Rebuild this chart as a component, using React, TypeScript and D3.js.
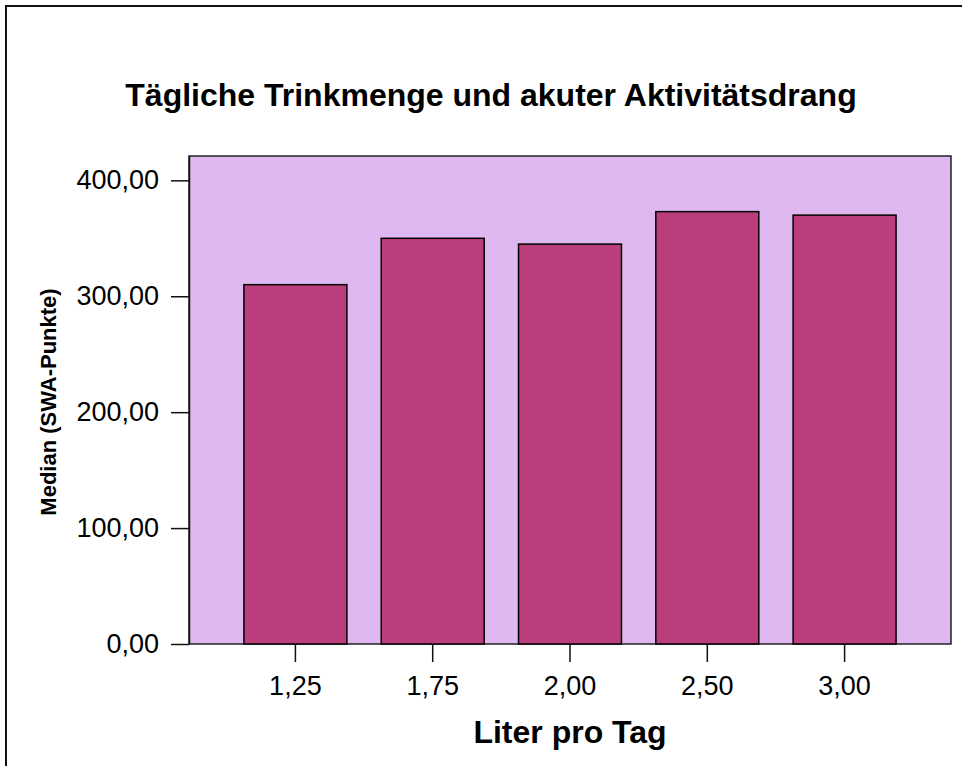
import { useEffect, useRef } from 'react';
import * as d3 from 'd3';

const categories = ['1,25', '1,75', '2,00', '2,50', '3,00'];
const medians = [310, 350, 345, 373, 370];
const yTicks = [0, 100, 200, 300, 400];

const width = 962;
const height = 766;

const App = () => {
	const svgRef = useRef<SVGSVGElement>(null);

	useEffect(() => {
		if (!svgRef.current) return;
		const svg = d3.select(svgRef.current);
		svg.selectAll('*').remove();

		const plot = { left: 189, right: 951, top: 156, bottom: 644 };
		const font = 'Arial, "Liberation Sans", sans-serif';

		// outer frame (runs off the page on right/bottom)
		svg.append('rect')
			.attr('x', 6)
			.attr('y', 6)
			.attr('width', 1200)
			.attr('height', 1200)
			.attr('fill', '#fff')
			.attr('stroke', '#111')
			.attr('stroke-width', 2);

		const x = d3
			.scaleBand<string>()
			.domain(categories)
			.range([plot.left, plot.right])
			.paddingInner(0.25)
			.paddingOuter(0.4);

		const y = d3.scaleLinear().domain([0, 421]).range([plot.bottom, plot.top]);

		svg.append('rect')
			.attr('x', plot.left)
			.attr('y', plot.top)
			.attr('width', plot.right - plot.left)
			.attr('height', plot.bottom - plot.top)
			.attr('fill', '#dfb8f1')
			.attr('stroke', '#222')
			.attr('stroke-width', 1.5);

		svg.append('g')
			.selectAll('rect')
			.data(medians)
			.join('rect')
			.attr('x', (_, i) => x(categories[i]) ?? 0)
			.attr('y', (d) => y(d))
			.attr('width', x.bandwidth())
			.attr('height', (d) => y(0) - y(d))
			.attr('fill', '#ba3e7c')
			.attr('stroke', '#000')
			.attr('stroke-width', 1.5);

		const fmt = (v: number) => v.toFixed(2).replace('.', ',');

		const yAxis = svg
			.append('g')
			.attr('transform', `translate(${plot.left},0)`)
			.call(
				d3
					.axisLeft(y)
					.tickValues(yTicks)
					.tickFormat((d) => fmt(+d))
					.tickSizeInner(18)
					.tickSizeOuter(0)
					.tickPadding(12)
			);
		yAxis.select('.domain').attr('stroke', '#111').attr('stroke-width', 1.5);
		yAxis.selectAll('line').attr('stroke', '#111').attr('stroke-width', 1.5);
		yAxis.selectAll('text').style('font-family', font).style('font-size', '27px').attr('fill', '#000');

		const xAxis = svg
			.append('g')
			.attr('transform', `translate(0,${plot.bottom})`)
			.call(d3.axisBottom(x).tickSize(18).tickPadding(14));
		xAxis.select('.domain').remove();
		xAxis.selectAll('line').attr('stroke', '#111').attr('stroke-width', 1.5);
		xAxis.selectAll('text').style('font-family', font).style('font-size', '27px').attr('fill', '#000');

		svg.append('text')
			.attr('x', 491)
			.attr('y', 106)
			.attr('text-anchor', 'middle')
			.style('font-family', font)
			.style('font-size', '32px')
			.style('font-weight', 'bold')
			.text('Tägliche Trinkmenge und akuter Aktivitätsdrang');

		svg.append('text')
			.attr('x', 570)
			.attr('y', 743)
			.attr('text-anchor', 'middle')
			.style('font-family', font)
			.style('font-size', '32px')
			.style('font-weight', 'bold')
			.text('Liter pro Tag');

		svg.append('text')
			.attr('transform', 'translate(56,402) rotate(-90)')
			.attr('text-anchor', 'middle')
			.style('font-family', font)
			.style('font-size', '22px')
			.style('font-weight', 'bold')
			.text('Median (SWA-Punkte)');
	}, []);

	return (
		<svg
			ref={svgRef}
			width={width}
			height={height}
			style={{ position: 'absolute', left: 0, top: 0, background: '#fff' }}
		></svg>
	);
};

export default App;
